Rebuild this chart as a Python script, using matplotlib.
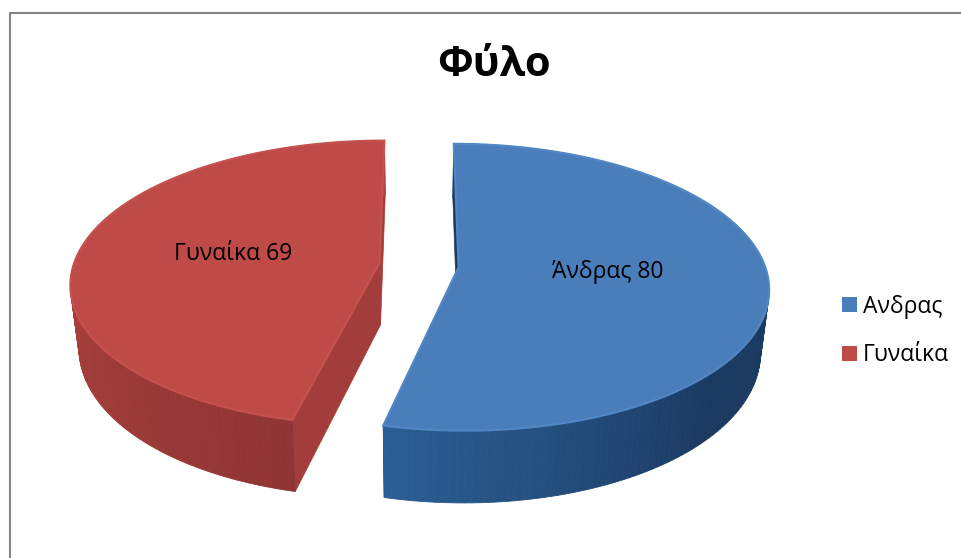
import numpy as np
import matplotlib
matplotlib.use("Agg")
import matplotlib.pyplot as plt
from matplotlib.patches import Patch
from matplotlib.colors import to_rgb

title = "Φύλο"
legend_labels = ["Ανδρας", "Γυναίκα"]
data_labels = ["Άνδρας", "Γυναίκα"]
values = [80, 69]
top_colors = ["#4A7EBB", "#BE4B48"]
rim_colors = ["#5287C6", "#C5524E"]
side_near = ["#2B5F95", "#8F3533"]   # colour of the wall at the slice's front end
side_far = ["#1B3A61", "#B5433F"]    # colour of the wall at the other end
shade_speed = [3.2, 1.6]
inner_colors = ["#1B3A61", "#A23D3B"]
label_xy = [(608, 272), (233, 254)]

# projection of the 3-D pie onto the page (pixels)
X0, CY, R, A, K = 419, 265, 306, 140, 0.14
EXPLODE, DEPTH, SHRINK = 0.13, 62, 0.975

fig = plt.figure(figsize=(9.62, 5.58), dpi=100)
ax = fig.add_axes([0, 0, 1, 1])
ax.set_xlim(0, 962)
ax.set_ylim(558, 0)
ax.axis("off")
FONT = "Open Sans"


def project(theta, rad, mid, bottom=False):
    """theta clockwise from the back of the pie, radians."""
    X = EXPLODE * np.sin(mid) + rad * np.sin(theta)
    Y = EXPLODE * np.cos(mid) + rad * np.cos(theta)
    w = 1 + K * Y
    x = R * X / w
    y = CY - A * Y / w
    if bottom:
        x = x * SHRINK
        y = y + DEPTH / w
    return X0 + x, y


def mix(a, b, t):
    a, b = np.array(to_rgb(a)), np.array(to_rgb(b))
    return tuple(a + (b - a) * t)


fractions = np.cumsum([0] + values) / sum(values) * 2 * np.pi
for i in [1, 0]:
    start, end = fractions[i], fractions[i + 1]
    mid = (start + end) / 2
    th = np.linspace(start, end, 160)
    # straight walls
    for edge in (start, end):
        xt, yt = project(np.array([edge, edge, edge]), np.array([1.0, 0.0, 0.0]), mid)
        xb, yb = project(np.array([edge, edge, edge]), np.array([1.0, 0.0, 0.0]), mid, True)
        ax.fill([xt[0], xt[1], xb[1], xb[0]], [yt[0], yt[1], yb[1], yb[0]],
                color=inner_colors[i], lw=0.5, zorder=2 + (1 - i) * 3)
    # outer wall, shaded along the arc
    xt, yt = project(th, 1.0, mid)
    xb, yb = project(th, 1.0, mid, True)
    for j in range(len(th) - 1):
        # the wall's front end is the one at the shared boundary (pie bottom)
        t = abs(th[j] - fractions[1]) / (end - start)
        c = mix(side_near[i], side_far[i], min(t * shade_speed[i], 1.0))
        ax.fill([xt[j], xt[j + 1], xb[j + 1], xb[j]], [yt[j], yt[j + 1], yb[j + 1], yb[j]],
                color=c, lw=0.6, zorder=3 + (1 - i) * 3)
    # top surface
    ax_, ay_ = project(np.array([mid]), 0.0, mid)
    ax.fill(np.r_[ax_, xt], np.r_[ay_, yt], facecolor=top_colors[i],
            edgecolor=rim_colors[i], lw=1.5, zorder=4 + (1 - i) * 3)
    ax.text(*label_xy[i], f"{data_labels[i]} {values[i]}", ha="center", va="center",
            fontsize=16.5, family=FONT, color="black", zorder=20)

# outer frame of the chart
ax.plot([10, 10, 962], [558, 12.5, 12.5], color="#868686", lw=1.5, solid_capstyle="butt", zorder=1)

ax.text(494, 65, title, ha="center", va="center", fontsize=30, fontweight="bold",
        family=FONT, color="black")

handles = [Patch(facecolor=top_colors[i], edgecolor="none") for i in range(2)]
ax.legend(handles, legend_labels, loc="center left", bbox_to_anchor=(839 / 962 - 0.006, 1 - 331 / 558),
          frameon=False, prop={"family": FONT, "size": 16.5}, handlelength=0.65, handleheight=0.65,
          handletextpad=0.25, labelspacing=1.08, borderpad=0, borderaxespad=0.4)

fig.savefig("out.png", dpi=100, facecolor="white")
